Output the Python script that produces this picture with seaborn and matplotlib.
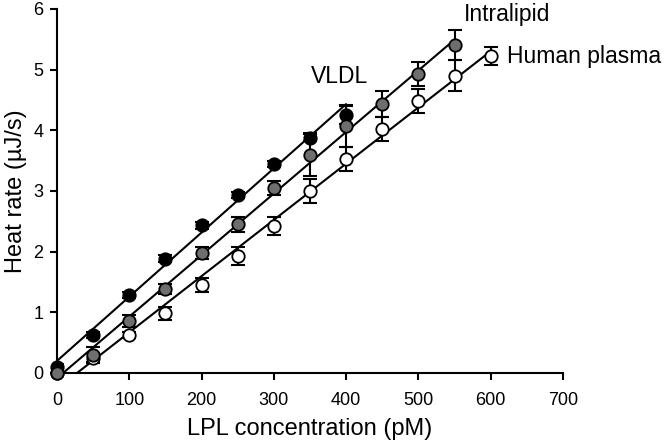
import matplotlib
matplotlib.use("Agg")
import matplotlib.pyplot as plt
import numpy as np
import pandas as pd
import seaborn as sns

# ── Data ─────────────────────────────────────────────────────────────
vldl_x = [0, 50, 100, 150, 200, 250, 300, 350, 400]
vldl_y = [0.10, 0.63, 1.28, 1.88, 2.43, 2.93, 3.45, 3.88, 4.25]
vldl_err = [0.04, 0.05, 0.05, 0.06, 0.06, 0.05, 0.05, 0.06, 0.15]

intra_x = [0, 50, 100, 150, 200, 250, 300, 350, 400, 450, 500, 550]
intra_y = [0.00, 0.30, 0.85, 1.38, 1.98, 2.45, 3.05, 3.60, 4.07, 4.43, 4.93, 5.40]
intra_err = [0.03, 0.12, 0.10, 0.08, 0.10, 0.12, 0.12, 0.35, 0.35, 0.22, 0.20, 0.25]

plasma_x = [0, 50, 100, 150, 200, 250, 300, 350, 400, 450, 500, 550, 600]
plasma_y = [0.00, 0.25, 0.62, 0.98, 1.45, 1.93, 2.42, 3.00, 3.52, 4.02, 4.48, 4.90, 5.22]
plasma_err = [0.03, 0.08, 0.05, 0.10, 0.12, 0.15, 0.15, 0.20, 0.20, 0.20, 0.20, 0.25, 0.15]

labels = ["VLDL", "Intralipid", "Human plasma"]

# ── Theme ────────────────────────────────────────────────────────────
sns.set_theme(style="ticks", rc={
    "text.color": "black",
    "axes.labelcolor": "black",
    "axes.edgecolor": "black",
    "xtick.color": "black",
    "ytick.color": "black",
})
plt.rcParams["font.family"] = ["Liberation Sans", "DejaVu Sans"]

fig = plt.figure(figsize=(6.67, 4.45), dpi=100)
ax = fig.add_axes([0.0855, 0.162, 0.7585, 0.818])

series = [
    (plasma_x, plasma_y, plasma_err, "white"),
    (vldl_x, vldl_y, vldl_err, "black"),
    (intra_x, intra_y, intra_err, "#6e6e6e"),
]

for x, y, err, fc in series:
    df = pd.DataFrame({"x": x, "y": y})
    slope, icpt = np.polyfit(df["x"], df["y"], 1)
    xs = np.array([0, max(x)])
    sns.lineplot(x=xs, y=slope * xs + icpt, ax=ax, color="black", lw=1.5)
    ax.errorbar(df["x"], df["y"], yerr=err, fmt="none", ecolor="black",
                elinewidth=1.5, capsize=5, capthick=1.5, zorder=3)
    sns.scatterplot(data=df, x="x", y="y", ax=ax, s=80, color=fc,
                    edgecolor="black", linewidth=1.3, zorder=4, clip_on=False)

ax.text(391, 4.88, labels[0], fontsize=16.5, ha="center", va="center")
ax.text(622, 5.9, labels[1], fontsize=16.5, ha="center", va="center")
ax.text(622, 5.21, labels[2], fontsize=16.5, ha="left", va="center")

ax.set_xlim(0, 700)
ax.set_ylim(0, 6)
ax.set_xticks(range(0, 701, 100))
ax.set_yticks(range(0, 7))
ax.tick_params(labelsize=13, width=1.5, length=5, direction="out")
ax.tick_params(axis="x", pad=9)
ax.tick_params(axis="y", pad=5)
for sp in ["left", "bottom"]:
    ax.spines[sp].set_linewidth(1.5)
sns.despine(ax=ax)
ax.set_xlabel("LPL concentration (pM)", fontsize=17, labelpad=6)
ax.set_ylabel("Heat rate (\u00b5J/s)", fontsize=17, labelpad=4)

fig.savefig("out.png", dpi=100)
